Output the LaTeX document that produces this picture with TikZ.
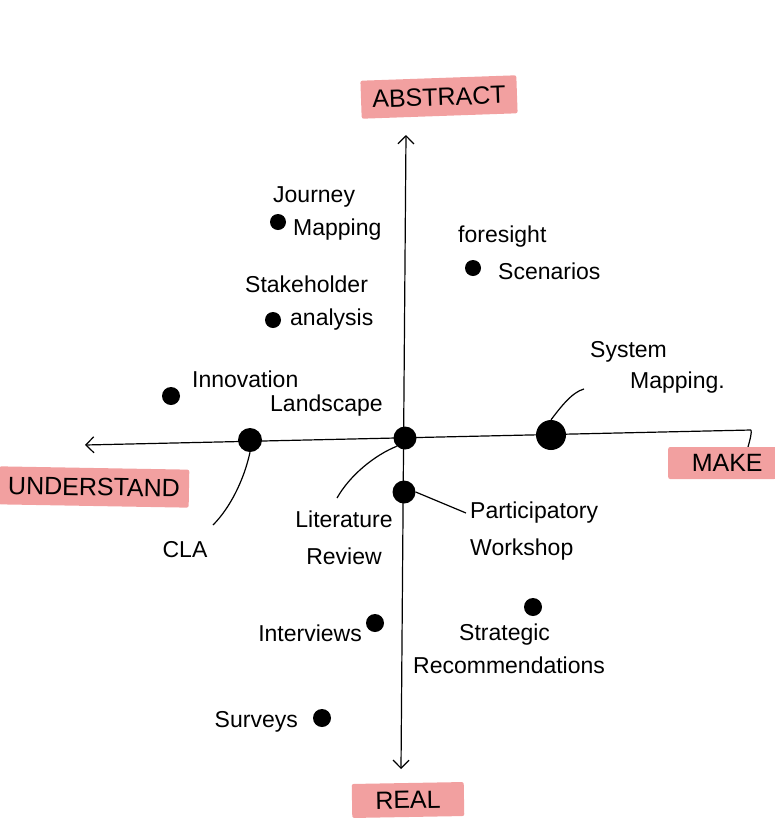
\documentclass[tikz,border=0pt]{standalone}
\usepackage{fontspec}
\setmainfont{Liberation Sans}
\usetikzlibrary{arrows.meta}
\definecolor{tagpink}{RGB}{242,160,160}
\tikzset{
  dot/.style={circle,fill=black,inner sep=0pt,minimum size=#1},
  lbl/.style={font=\fontsize{23}{33}\selectfont,align=left,inner sep=0pt},
  tag/.style={fill=tagpink,font=\fontsize{25}{28}\selectfont,inner xsep=8pt,inner ysep=6pt,rounded corners=2pt},
  axis/.style={line width=1.2pt,black},
  lead/.style={line width=1.2pt,black},
  barb/.tip={Straight Barb[length=8pt,width=16pt,line width=1.2pt]}
}
\begin{document}
\begin{tikzpicture}[x=1pt,y=-1pt]
\useasboundingbox (0,0) rectangle (775,820);
% axes
\coordinate (top) at (406,135);
\coordinate (bot) at (401,769);
\coordinate (lft) at (85,445);
\coordinate (rgt) at (751,430);
\coordinate (rhook) at (748,447);
\draw[axis,{barb}-{barb}] (bot) -- (top);
\draw[axis,{barb}-] (lft) -- (rgt);
\draw[axis] (rgt) .. controls (752,432) and (750,440) .. (rhook);
% axis tags
\node[tag,rotate=2,minimum width=156pt,minimum height=38pt] (abstract) at (439,97) {ABSTRACT};
\node[tag,rotate=-1,minimum width=190pt,minimum height=38pt] (understand) at (94,487) {UNDERSTAND};
\node[tag,minimum width=108pt,minimum height=32pt,anchor=west] (make) at (668,463) {\hspace*{10pt}MAKE};
\node[tag,rotate=1,minimum width=112pt,minimum height=34pt] (real) at (408,800) {REAL};
% dots
\node[dot=16pt] (djm) at (278,222) {};
\node[dot=16pt] (dsa) at (273,320) {};
\node[dot=18pt] (dil) at (171,396) {};
\node[dot=16pt] (dfs) at (473,268) {};
\node[dot=24pt] (dcla) at (250,440) {};
\node[dot=23pt] (dlr) at (405,438) {};
\node[dot=30pt] (dsm) at (551,435) {};
\node[dot=23pt] (dpw) at (404,492) {};
\node[dot=18pt] (din) at (375,623) {};
\node[dot=18pt] (dsr) at (533,607) {};
\node[dot=18pt] (dsu) at (322,718) {};
% labels
\node[lbl,anchor=west] (ljm) at (273,213) {Journey\\\hspace*{20pt}Mapping};
\node[lbl,anchor=west] (lsa) at (245,303) {Stakeholder\\\hspace*{45pt}analysis};
\node[lbl,anchor=west,font=\fontsize{23}{24}\selectfont] (lil) at (192,394) {Innovation\\\hspace*{78pt}Landscape};
\node[lbl,anchor=west,font=\fontsize{23}{37}\selectfont] (lfs) at (458,253) {foresight\\\hspace*{40pt}Scenarios};
\node[lbl,anchor=west,font=\fontsize{23}{31}\selectfont] (lsm) at (590,367) {System\\\hspace*{40pt}Mapping.};
\node[lbl] (lcla) at (185,550) {CLA};
\node[lbl,align=center,font=\fontsize{23}{37}\selectfont] (llr) at (344,538) {Literature\\Review};
\node[lbl,anchor=west,font=\fontsize{23}{37}\selectfont] (lpw) at (470,531) {Participatory\\Workshop};
\node[lbl,anchor=east] (lin) at (362,633) {Interviews};
\node[lbl,anchor=west] (lsr) at (413,649) {\hspace*{46pt}Strategic\\Recommendations};
\node[lbl,anchor=east] (lsu) at (298,722) {Surveys};
% leaders
\coordinate (ecla) at (213,525);
\coordinate (elr) at (337,498);
\coordinate (epw) at (466,513);
\coordinate (esm) at (584,389);
\draw[lead] (dcla.south) .. controls (244,480) and (230,508) .. (ecla);
\draw[lead] (dlr.south west) .. controls (375,455) and (350,475) .. (elr);
\draw[lead] (dpw.east) -- (epw);
\draw[lead] (dsm.north) .. controls (560,408) and (572,392) .. (esm);
\end{tikzpicture}
\end{document}
